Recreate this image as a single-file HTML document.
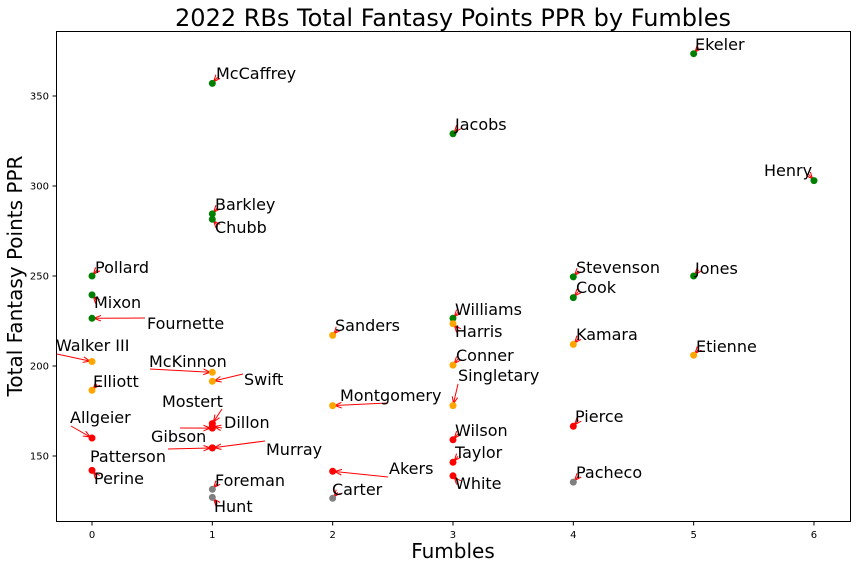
<!DOCTYPE html>
<html><head><meta charset="utf-8"><style>
html,body{margin:0;padding:0;background:#fff;}
svg text{font-family:"DejaVu Sans","Liberation Sans",sans-serif;}
</style></head><body>
<svg id="chart" width="856" height="568" viewBox="0 0 856 568" xmlns="http://www.w3.org/2000/svg">
<defs><marker id="ah" viewBox="0 0 10 10" refX="10" refY="5" markerWidth="7" markerHeight="7" orient="auto-start-reverse"><path d="M0,1 L10,5 L0,9" fill="none" stroke="red" stroke-width="1.5"/></marker></defs>
<text x="453" y="26" font-size="24" text-anchor="middle" fill="#000">2022 RBs Total Fantasy Points PPR by Fumbles</text>
<rect x="56.5" y="31.5" width="794" height="490" fill="none" stroke="#000" stroke-width="1"/>
<g id="xticks"></g><g id="yticks"></g>
<g id="arrows"></g><g id="points"></g><g id="labels"></g>
<text x="453" y="558" font-size="20" text-anchor="middle">Fumbles</text>
<text x="22" y="276" font-size="20" text-anchor="middle" transform="rotate(-90 22 276)">Total Fantasy Points PPR</text>
</svg>
<script>
const players = ["Ekeler","McCaffrey","Jacobs","Henry","Barkley","Chubb","Pollard","Mixon","Fournette","Stevenson","Jones","Cook","Williams","Harris","Sanders","Kamara","Etienne","Walker III","Conner","McKinnon","Swift","Singletary","Elliott","Montgomery","Mostert","Dillon","Gibson","Pierce","Allgeier","Wilson","Murray","Patterson","Taylor","Akers","Perine","White","Pacheco","Foreman","Carter","Hunt"];
const fumbles = [5,1,3,6,1,1,0,0,0,4,5,4,3,3,2,4,5,0,3,1,1,3,0,2,1,1,1,4,0,3,1,1,3,2,0,3,4,1,2,1];
const points = [373.5,357,329,303,284.5,281.5,250,239.5,226.5,249.5,250,238,226.5,223.5,217,212,206,202.5,200.5,196.5,191.5,178,186.5,178,168,166.5,165.5,166.5,160,159,154.5,154.5,146.5,141.5,142,139,135.5,131.5,126.5,127];
const xTicks = [0,1,2,3,4,5,6];
const yTicks = [150,200,250,300,350];
// label layout: [textX, textY(center), arrowStartX, arrowStartY]
const labelLayout = [[695,44],[216,73],[455,124],[764,170],[215,204],[215,227],[95,267],[94,302],[147,323,145,318],[576,267],[695,268],[576,287],[455,309],[455,331],[335,325],[576,334],[696,346],[56,345,57,354],[456,355],[149,361,150,369],[244,379,243,374],[458,375,458,384],[93,381],[340,395,388,403],[162,401,222,409],[224,422,222,428],[151,436,180,428],[575,416],[70,417,71,426],[455,430],[266,449,265,441],[90,456,168,449],[455,452],[389,468,388,477],[94,478],[455,483],[576,472],[215,480],[332,489],[214,506]];
const NS="http://www.w3.org/2000/svg";
const xS=v=>92+v*120.33;
const yS=v=>456-(v-150)*1.8;
const col=v=>v>=225?"green":v>=175?"orange":v>=137?"red":"gray";
function mk(t,a){const e=document.createElementNS(NS,t);for(const k in a)e.setAttribute(k,a[k]);return e;}
const xt=document.getElementById('xticks'),yt=document.getElementById('yticks');
xTicks.forEach(v=>{const x=xS(v);
 const l=mk('line',{x1:x,x2:x,y1:521.5,y2:525.5,stroke:'#000'});
 
 
 xt.appendChild(l);
 const t=mk('text',{x:x,y:538,'font-size':10,'text-anchor':'middle'});t.textContent=v;
 
 
 xt.appendChild(t);});
yTicks.forEach(v=>{const y=yS(v);
 const l=mk('line',{x1:52.5,x2:56.5,y1:y,y2:y,stroke:'#000'});
 
 
 yt.appendChild(l);
 const t=mk('text',{x:49,y:y+3.5,'font-size':10,'text-anchor':'end'});t.textContent=v;
 
 
 yt.appendChild(t);});
const pg=document.getElementById('points'),lg=document.getElementById('labels'),ag=document.getElementById('arrows');
players.forEach((n,i)=>{
 const px=xS(fumbles[i]),py=yS(points[i]);
 const c=mk('circle',{cx:px,cy:py,r:3.5,fill:col(points[i])});
 
 
 pg.appendChild(c);
 const L=labelLayout[i];
 const t=mk('text',{x:L[0],y:L[1]+6,'font-size':16});t.textContent=n;
 
 
 lg.appendChild(t);
 let sx,sy;
 if(L.length>2){sx=L[2];sy=L[3];}
 else{sx=px+(L[0]>=px-5?5:-5);sy=py+(L[1]<py?-6:6);}
 const dx=px-sx,dy=py-sy,d=Math.hypot(dx,dy)||1;
 const ex=px-dx/d*2,ey=py-dy/d*2;
 const a=mk('line',{x1:sx,y1:sy,x2:ex,y2:ey,stroke:'red','stroke-width':1,'marker-end':'url(#ah)'});
 
 
 ag.appendChild(a);
});
</script>
</body></html>
